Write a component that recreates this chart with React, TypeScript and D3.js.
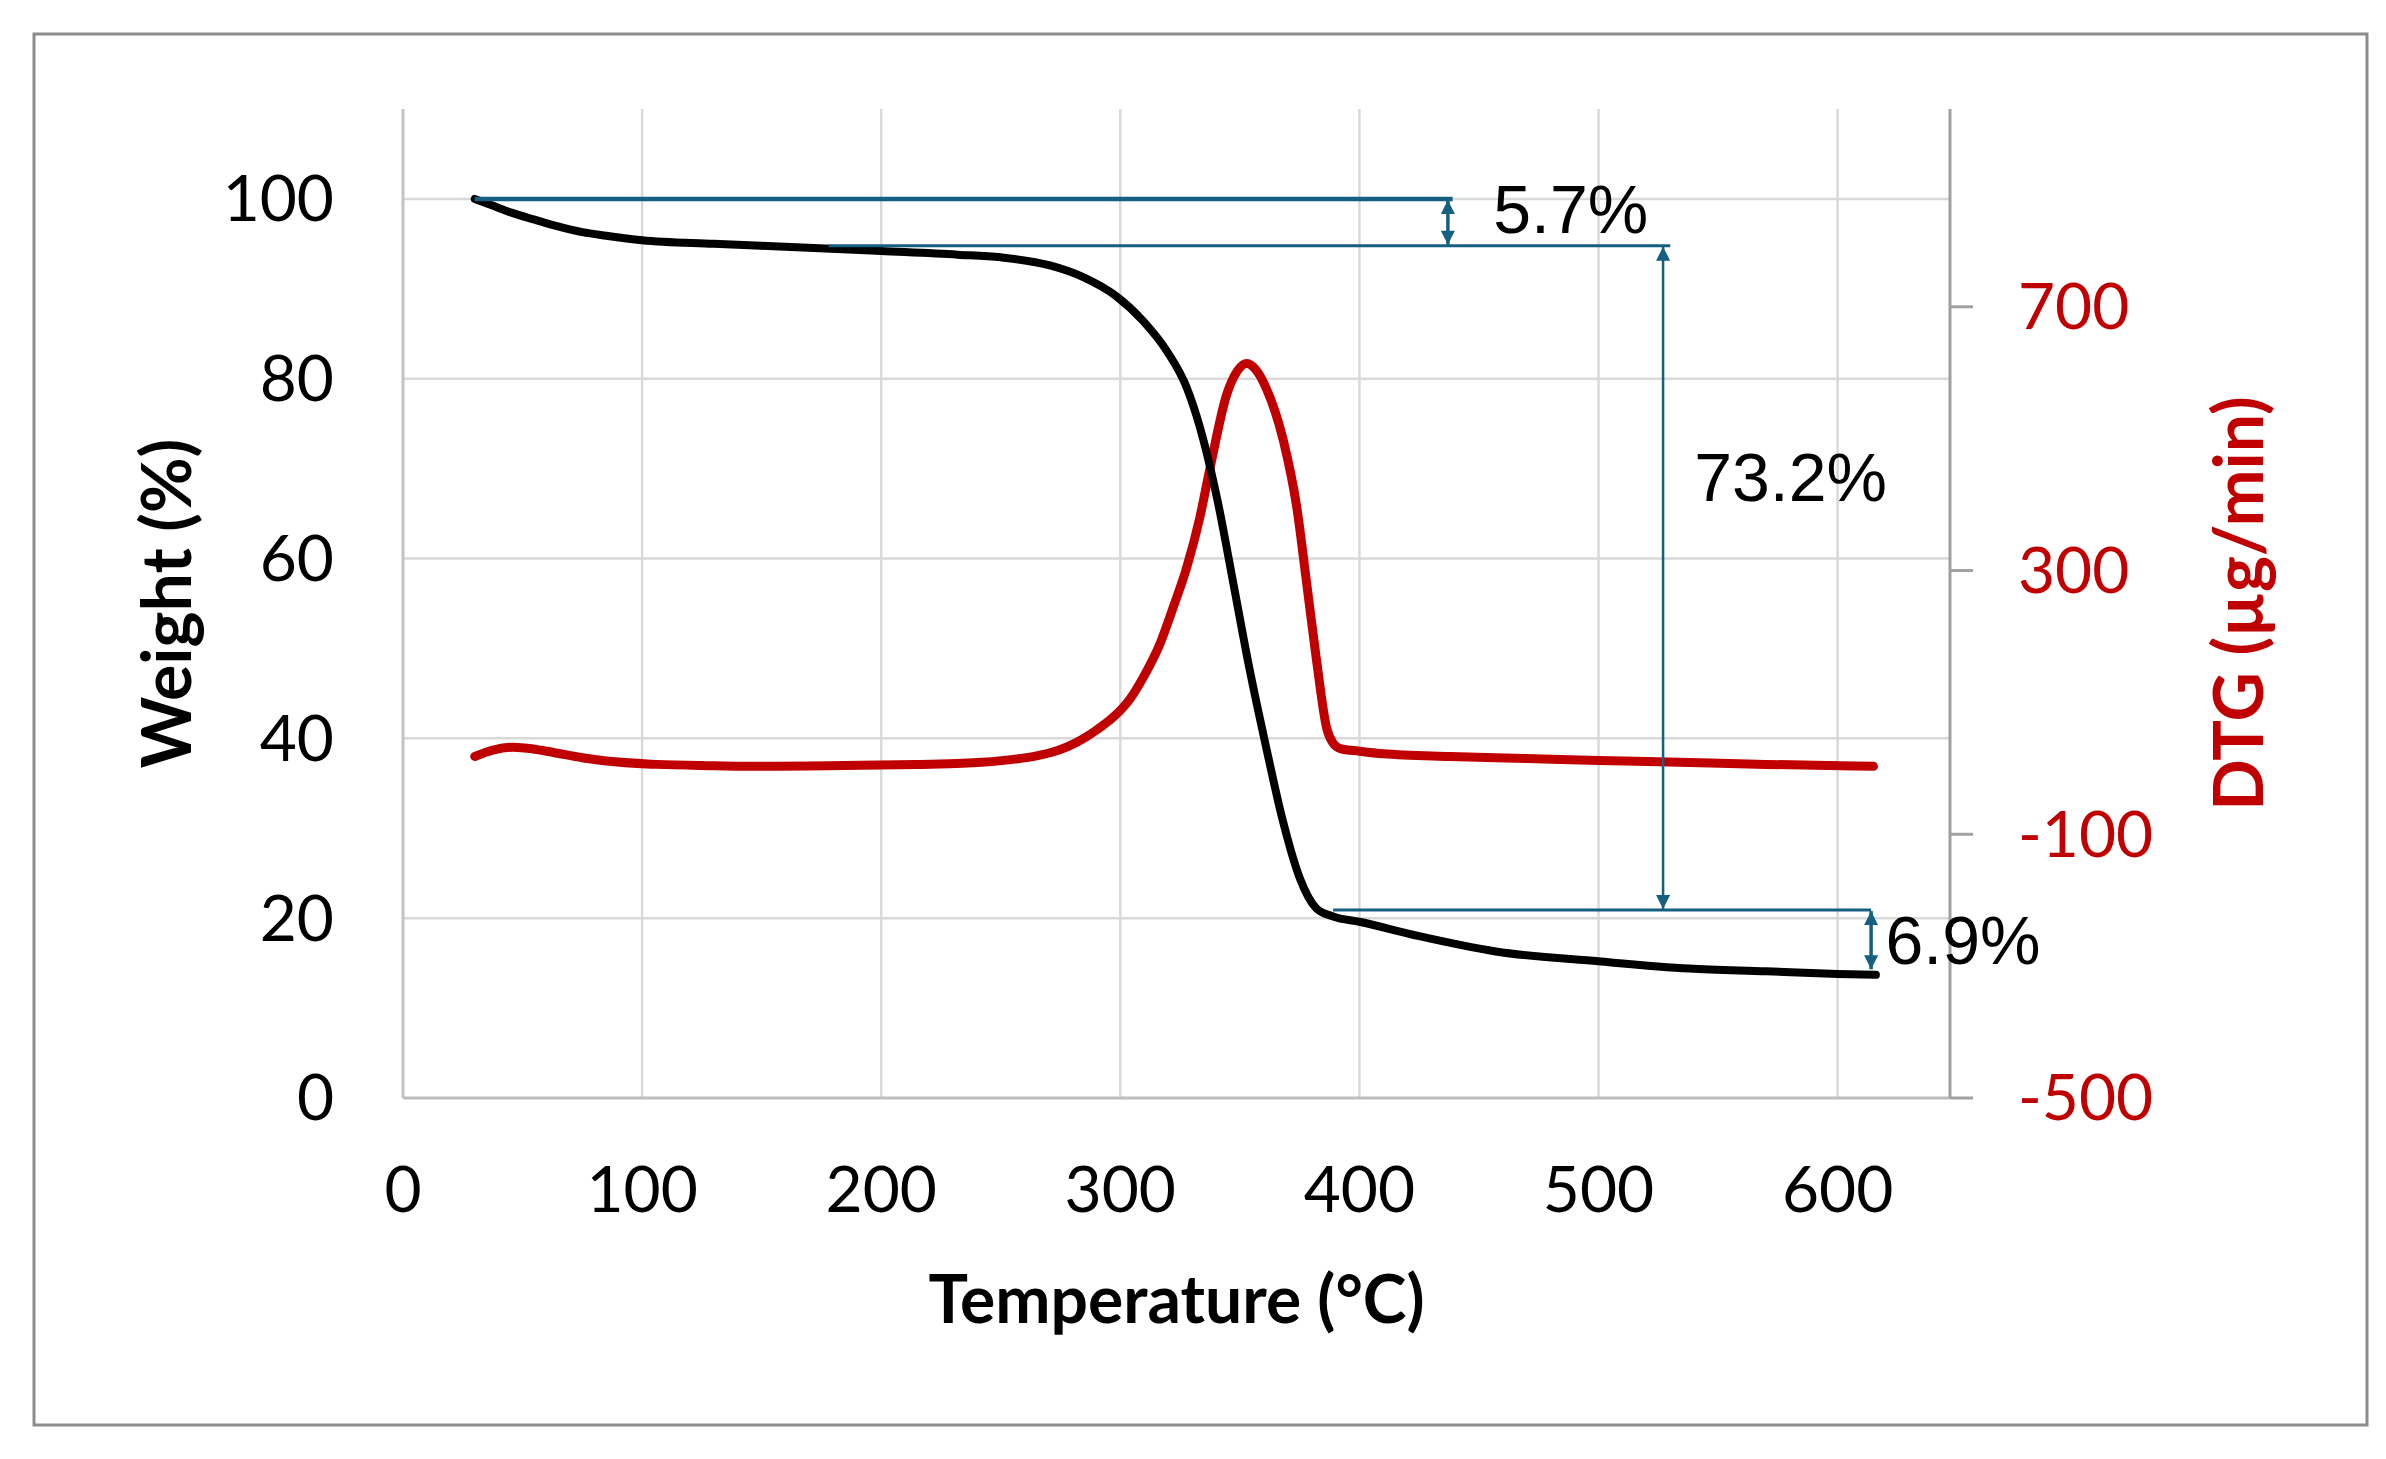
import { useRef, useEffect } from 'react';
import * as d3 from 'd3';

// TGA weight curve (°C, %)
const tgaTemp = [30, 38, 45, 55, 64, 75, 85, 100, 130, 167, 200, 232, 250, 270.6, 284.5, 298.2, 309.6, 319.4, 327.8, 333.3, 340.7, 347.3, 353.9, 361, 368, 375, 382, 389, 400, 425, 457, 500, 538, 570, 600, 616];
const tgaWeight = [100, 99.2, 98.5, 97.7, 97.0, 96.3, 95.9, 95.4, 95.0, 94.6, 94.2, 93.8, 93.5, 92.6, 91.3, 89.2, 86.4, 83.1, 79.0, 74.6, 66.4, 57.2, 47.9, 39.0, 30.8, 24.5, 21.1, 20.2, 19.6, 18.0, 16.3, 15.2, 14.4, 14.1, 13.8, 13.7];

// DTG curve (°C, µg/min)
const dtgTemp = [30, 38, 46, 55, 63, 75, 85, 106, 130, 149, 170, 191, 215, 234, 256, 265, 271, 278, 284, 290, 297.8, 304, 309.6, 316.6, 322.2, 327.8, 333.3, 337.5, 344.5, 349, 352.9, 357, 361.2, 368.2, 373.8, 378, 382.1, 386.3, 389, 392, 400, 410, 438, 470, 500, 538, 570, 615];
const dtgRate = [18, 28, 32, 29, 24, 16, 11, 6, 4, 3, 3.5, 4.5, 6, 7.6, 14, 19, 24, 33, 44, 58, 80, 105, 138, 189, 245, 305, 381, 455, 567, 603, 614, 603, 575, 497, 396, 279, 163, 61, 38, 30, 26, 22, 18, 15, 12, 9, 6, 3];

const xTicks = [0, 100, 200, 300, 400, 500, 600];
const yTicks = [0, 20, 40, 60, 80, 100];
const yRightTicks = [-500, -100, 300, 700];

// annotation brackets: horizontal levels (weight %) with their temperature spans
const levelWeight = [100, 94.8, 20.9];
const levelFrom = [30, 178, 389];
const levelTo = [439, 530, 614];
const arrowTemp = [437, 527, 614];
const arrowTop = [100, 94.8, 20.9];
const arrowBottom = [94.8, 20.9, 14.2];
const labelText = ['5.7%', '73.2%', '6.9%'];
const labelTemp = [456, 540, 620];
const labelWeight = [96.2, 66.4, 14.9];

const W = 2386;
const H = 1459;
const PLOT = { left: 403, right: 1950, top: 109, bottom: 1098 };
const TEAL = '#156082';
const RED = '#C00000';
const FONT = 'Lato, "Open Sans", sans-serif';

export default function App() {
  const svgRef = useRef<SVGSVGElement>(null);

  useEffect(() => {
    if (!svgRef.current) return;
    const svg = d3.select(svgRef.current);
    svg.selectAll('*').remove();

    const x = d3.scaleLinear().domain([0, 647]).range([PLOT.left, PLOT.right]);
    const yL = d3.scaleLinear().domain([0, 110]).range([PLOT.bottom, PLOT.top]);
    const yR = d3.scaleLinear().domain([-500, 1000]).range([PLOT.bottom, PLOT.top]);

    svg.append('rect').attr('width', W).attr('height', H).attr('fill', '#fff');
    svg.append('rect')
      .attr('x', 34).attr('y', 34).attr('width', 2333).attr('height', 1391)
      .attr('fill', 'none').attr('stroke', '#8c8c8c').attr('stroke-width', 3);

    const defs = svg.append('defs');
    defs.append('marker')
      .attr('id', 'arrow')
      .attr('viewBox', '0 0 10 10')
      .attr('refX', 10).attr('refY', 5)
      .attr('markerUnits', 'userSpaceOnUse')
      .attr('markerWidth', 15).attr('markerHeight', 14)
      .attr('orient', 'auto-start-reverse')
      .append('path')
      .attr('d', 'M0,0 L10,5 L0,10 z')
      .attr('fill', TEAL);

    // Grid
    const grid = svg.append('g').attr('stroke', '#d9d9d9').attr('stroke-width', 2.5);
    grid.selectAll('line.v')
      .data(xTicks.filter((t) => t > 0))
      .join('line')
      .attr('x1', (d) => x(d)).attr('x2', (d) => x(d))
      .attr('y1', PLOT.top).attr('y2', PLOT.bottom);
    grid.selectAll('line.h')
      .data(yTicks.filter((t) => t > 0))
      .join('line')
      .attr('class', 'h')
      .attr('x1', PLOT.left).attr('x2', PLOT.right)
      .attr('y1', (d) => yL(d)).attr('y2', (d) => yL(d));

    // Axis lines
    svg.append('line')
      .attr('x1', PLOT.left).attr('x2', PLOT.left)
      .attr('y1', PLOT.top).attr('y2', PLOT.bottom)
      .attr('stroke', '#c4c4c4').attr('stroke-width', 3);
    svg.append('line')
      .attr('x1', PLOT.left).attr('x2', PLOT.right)
      .attr('y1', PLOT.bottom).attr('y2', PLOT.bottom)
      .attr('stroke', '#bdbdbd').attr('stroke-width', 3);
    svg.append('line')
      .attr('x1', PLOT.right).attr('x2', PLOT.right)
      .attr('y1', PLOT.top).attr('y2', PLOT.bottom)
      .attr('stroke', '#a0a0a0').attr('stroke-width', 3);
    svg.append('g')
      .selectAll('line')
      .data(yRightTicks)
      .join('line')
      .attr('x1', PLOT.right).attr('x2', PLOT.right + 23)
      .attr('y1', (d) => yR(d)).attr('y2', (d) => yR(d))
      .attr('stroke', '#a0a0a0').attr('stroke-width', 3);

    // Tick labels
    svg.append('g')
      .selectAll('text')
      .data(xTicks)
      .join('text')
      .attr('x', (d) => x(d)).attr('y', 1212)
      .attr('text-anchor', 'middle')
      .attr('font-family', FONT).attr('font-size', 64).attr('fill', '#000')
      .text((d) => d);
    svg.append('g')
      .selectAll('text')
      .data(yTicks)
      .join('text')
      .attr('x', 334).attr('y', (d) => yL(d)).attr('dy', '0.35em')
      .attr('text-anchor', 'end')
      .attr('font-family', FONT).attr('font-size', 64).attr('fill', '#000')
      .text((d) => d);
    svg.append('g')
      .selectAll('text')
      .data(yRightTicks)
      .join('text')
      .attr('x', 2018).attr('y', (d) => yR(d)).attr('dy', '0.35em')
      .attr('text-anchor', 'start')
      .attr('font-family', FONT).attr('font-size', 64).attr('fill', RED)
      .text((d) => d);

    // Axis titles
    svg.append('text')
      .attr('x', (PLOT.left + PLOT.right) / 2).attr('y', 1323)
      .attr('text-anchor', 'middle')
      .attr('font-family', FONT).attr('font-weight', 'bold').attr('font-size', 66)
      .text('Temperature (°C)');
    svg.append('text')
      .attr('transform', `translate(191,${(PLOT.top + PLOT.bottom) / 2}) rotate(-90)`)
      .attr('text-anchor', 'middle')
      .attr('font-family', FONT).attr('font-weight', 'bold').attr('font-size', 68)
      .text('Weight (%)');
    svg.append('text')
      .attr('transform', `translate(2263,${(PLOT.top + PLOT.bottom) / 2}) rotate(-90)`)
      .attr('text-anchor', 'middle')
      .attr('font-family', FONT).attr('font-weight', 'bold').attr('font-size', 68)
      .attr('fill', RED)
      .text('DTG (µg/min)');

    // Curves
    const tga = tgaTemp.map((t, i) => [t, tgaWeight[i]] as [number, number]);
    const dtg = dtgTemp.map((t, i) => [t, dtgRate[i]] as [number, number]);

    svg.append('path')
      .datum(dtg)
      .attr('fill', 'none').attr('stroke', RED).attr('stroke-width', 9)
      .attr('stroke-linejoin', 'round').attr('stroke-linecap', 'round')
      .attr('d', d3.line<[number, number]>().x((d) => x(d[0])).y((d) => yR(d[1])).curve(d3.curveMonotoneX));

    svg.append('path')
      .datum(tga)
      .attr('fill', 'none').attr('stroke', '#000').attr('stroke-width', 8)
      .attr('stroke-linejoin', 'round').attr('stroke-linecap', 'round')
      .attr('d', d3.line<[number, number]>().x((d) => x(d[0])).y((d) => yL(d[1])).curve(d3.curveMonotoneX));

    // Annotation brackets
    const ann = svg.append('g');
    ann.selectAll('line.level')
      .data(levelWeight)
      .join('line')
      .attr('class', 'level')
      .attr('x1', (_, i) => x(levelFrom[i])).attr('x2', (_, i) => x(levelTo[i]))
      .attr('y1', (d) => yL(d)).attr('y2', (d) => yL(d))
      .attr('stroke', TEAL).attr('stroke-width', (_, i) => (i === 0 ? 4.5 : 3));
    ann.selectAll('line.arrow')
      .data(arrowTemp)
      .join('line')
      .attr('class', 'arrow')
      .attr('x1', (d) => x(d)).attr('x2', (d) => x(d))
      .attr('y1', (_, i) => yL(arrowTop[i]) + 1).attr('y2', (_, i) => yL(arrowBottom[i]) - 1)
      .attr('stroke', TEAL).attr('stroke-width', (_, i) => (i === 1 ? 2.5 : 3.5))
      .attr('marker-start', 'url(#arrow)').attr('marker-end', 'url(#arrow)');
    ann.selectAll('text')
      .data(labelText)
      .join('text')
      .attr('x', (_, i) => x(labelTemp[i])).attr('y', (_, i) => yL(labelWeight[i]))
      .attr('font-family', '"Liberation Sans", Arial, sans-serif').attr('font-size', 68)
      .attr('fill', '#000')
      .text((d) => d);
  }, []);

  return (
    <div style={{ position: 'absolute', left: 0, top: 0 }}>
      <svg ref={svgRef} width={W} height={H} viewBox={`0 0 ${W} ${H}`} style={{ display: 'block' }} />
    </div>
  );
}
